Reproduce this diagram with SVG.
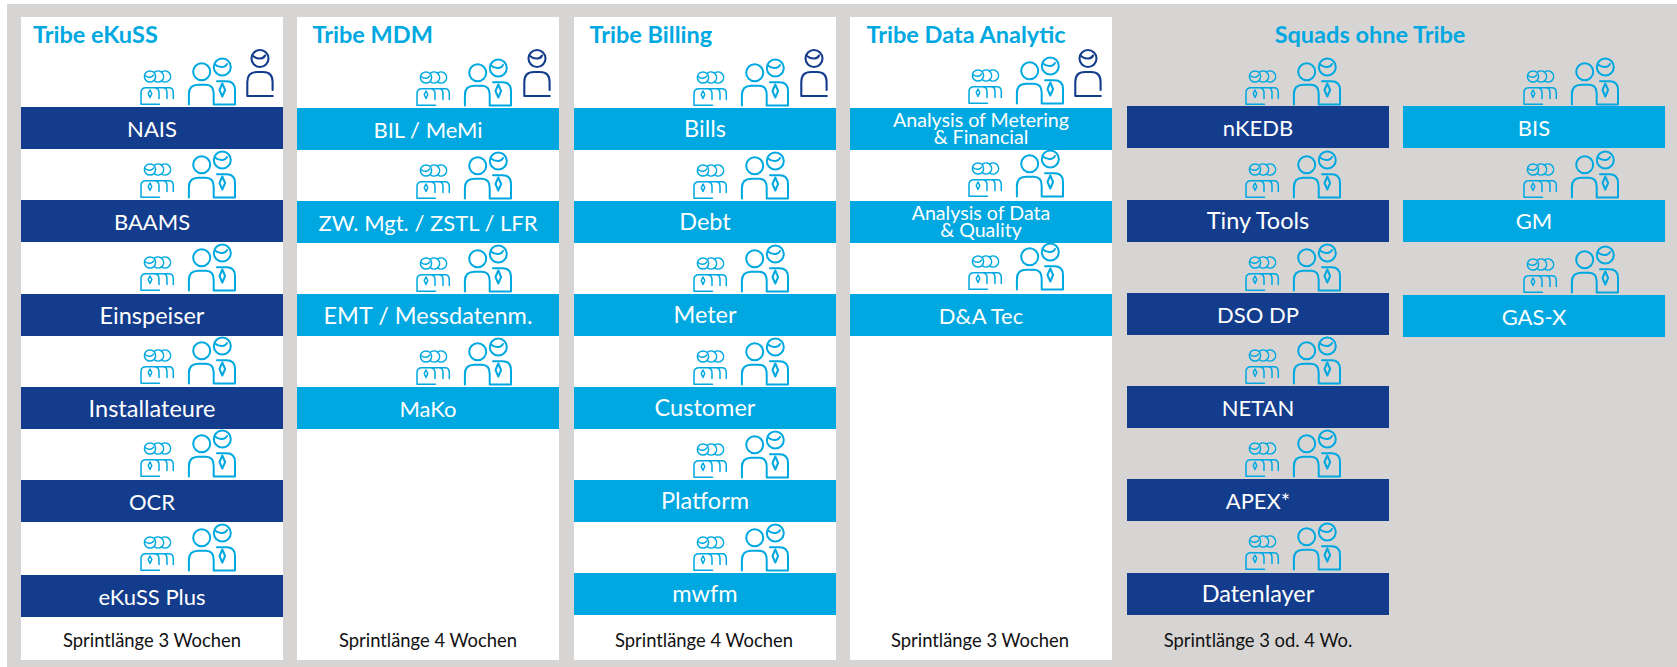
<svg xmlns="http://www.w3.org/2000/svg" width="1677" height="667" viewBox="0 0 1677 667">
<style>
text{font-family:"Lato","Carlito","Liberation Sans",sans-serif}
.panel{fill:#fff}
.dark{fill:#143c8c}
.cyan{fill:#00a8e1}
.lbl{fill:#fff;font-size:23.500px;text-anchor:middle}
.c{font-size:22px}
.lbl2{fill:#fff;font-size:19.600px;text-anchor:middle}
.ttl{fill:#00a8e1;font-size:23.500px;font-weight:700}
.ftr{fill:#111;font-size:18.400px;text-anchor:middle}
.ic{fill:none;stroke:#00a8e1;stroke-width:2;stroke-linecap:round;stroke-linejoin:round}
.ic2{fill:none;stroke:#143c8c;stroke-width:2.100;stroke-linecap:round;stroke-linejoin:round}
.thin{stroke-width:1.500}
</style>
<defs>
<g id="team" class="ic">
<g class="thin">
<circle cx="150" cy="76.500" r="5.600"/>
<path d="M145 75.500q3 2.500 6 1.500q2-.5 2.500-2"/>
<path d="M154.600 72.050A5.600 5.600 0 1 1 154.600 80.950M161.600 72.050A5.600 5.600 0 1 1 161.600 80.950"/>
<path d="M141 104.300V92.500q0-4.800 5-4.800h8q5 0 5 5V98.500M155 87.700h8q4 0 4 5V98.500M162 87.700h7q4.300 0 4.300 5V98.500M141 104.300H159.500"/>
<path d="M150 90l1.800 3.500-1.800 4-1.800-4z"/>
</g>
<circle cx="201.700" cy="71.700" r="8.500"/>
<circle cx="222.300" cy="67" r="8.500"/>
<path d="M215 64.500q3.500 3 7.500 2.500q3.500-.5 4.500-3"/>
<path d="M188.900 104.400V94q0-9.300 9.500-9.300h7.500q7.800 0 7.800 9V104.400H235V90q0-8.800-8.500-8.800H217"/>
<path d="M222.300 83.500l2.800 6.500-2.800 6.500-2.800-6.500z"/>
</g>
<g id="lead" class="ic2">
<circle cx="260" cy="58.500" r="8.500"/>
<path d="M253 56q3.500 3 7.500 2.500q3.500-.5 4.500-3"/>
<path d="M272.600 90V82q0-10-9.500-10H257q-9.700 0-9.700 10V96H272.800"/>
</g>
</defs>
<rect x="7" y="4" width="1670" height="663" fill="#d7d5d3"/>
<g id="connectors"/>
<g id="panels">
<rect class="panel" x="21" y="17" width="262" height="643"/>
<rect class="panel" x="297" y="17" width="262" height="643"/>
<rect class="panel" x="574" y="17" width="262" height="643"/>
<rect class="panel" x="850" y="17" width="262" height="643"/>
</g>
<g id="titles">
<text class="ttl" x="33" y="43">Tribe eKuSS</text>
<text class="ttl" x="312.500" y="43">Tribe MDM</text>
<text class="ttl" x="589.500" y="43">Tribe Billing</text>
<text class="ttl" x="866.500" y="43">Tribe Data Analytic</text>
<text class="ttl" x="1370" y="43" text-anchor="middle">Squads ohne Tribe</text>
</g>
<g id="lead-icons">
<use href="#lead"/>
<use href="#lead" x="277"/>
<use href="#lead" x="554"/>
<use href="#lead" x="828"/>
</g>
<g id="nais"><use href="#team"/><rect class="dark" x="21" y="107" width="262" height="42"/><text class="lbl c" x="152" y="137">NAIS</text></g>
<g id="baams"><use href="#team" y="93"/><rect class="dark" x="21" y="200" width="262" height="42"/><text class="lbl c" x="152" y="230">BAAMS</text></g>
<g id="einspeiser"><use href="#team" y="186"/><rect class="dark" x="21" y="294" width="262" height="42"/><text class="lbl" x="152" y="324">Einspeiser</text></g>
<g id="installateure"><use href="#team" y="279"/><rect class="dark" x="21" y="387" width="262" height="42"/><text class="lbl" x="152" y="417">Installateure</text></g>
<g id="ocr"><use href="#team" y="372"/><rect class="dark" x="21" y="480" width="262" height="42"/><text class="lbl c" x="152" y="510">OCR</text></g>
<g id="ekuss-plus"><use href="#team" y="466"/><rect class="dark" x="21" y="575" width="262" height="42"/><text class="lbl c" x="152" y="605">eKuSS Plus</text></g>
<g id="bil-memi"><use href="#team" x="276" y="1"/><rect class="cyan" x="297" y="108" width="262" height="42"/><text class="lbl c" x="428" y="137.500">BIL / MeMi</text></g>
<g id="zw-mgt"><use href="#team" x="276" y="94"/><rect class="cyan" x="297" y="201" width="262" height="42"/><text class="lbl c" x="428" y="230.500">ZW. Mgt. / ZSTL / LFR</text></g>
<g id="emt"><use href="#team" x="276" y="187"/><rect class="cyan" x="297" y="294" width="262" height="42"/><text class="lbl" x="428" y="323.500">EMT / Messdatenm.</text></g>
<g id="mako"><use href="#team" x="276" y="280"/><rect class="cyan" x="297" y="387" width="262" height="42"/><text class="lbl c" x="428" y="416.500">MaKo</text></g>
<g id="bills"><use href="#team" x="553" y="1"/><rect class="cyan" x="574" y="108" width="262" height="42"/><text class="lbl" x="705" y="137">Bills</text></g>
<g id="debt"><use href="#team" x="553" y="94"/><rect class="cyan" x="574" y="201" width="262" height="42"/><text class="lbl" x="705" y="230">Debt</text></g>
<g id="meter"><use href="#team" x="553" y="187"/><rect class="cyan" x="574" y="294" width="262" height="42"/><text class="lbl" x="705" y="323">Meter</text></g>
<g id="customer"><use href="#team" x="553" y="280"/><rect class="cyan" x="574" y="387" width="262" height="42"/><text class="lbl" x="705" y="416">Customer</text></g>
<g id="platform"><use href="#team" x="553" y="373"/><rect class="cyan" x="574" y="480" width="262" height="42"/><text class="lbl" x="705" y="509">Platform</text></g>
<g id="mwfm"><use href="#team" x="553" y="466"/><rect class="cyan" x="574" y="573" width="262" height="42"/><text class="lbl" x="705" y="602">mwfm</text></g>
<g id="analysis-metering"><use href="#team" x="828" y="-1"/><rect class="cyan" x="850" y="108" width="262" height="42"/><text class="lbl2" x="981" y="126.500">Analysis of Metering</text><text class="lbl2" x="981" y="144">&amp; Financial</text></g>
<g id="analysis-data"><use href="#team" x="828" y="92"/><rect class="cyan" x="850" y="201" width="262" height="42"/><text class="lbl2" x="981" y="219.500">Analysis of Data</text><text class="lbl2" x="981" y="236.500">&amp; Quality</text></g>
<g id="da-tec"><use href="#team" x="828" y="185"/><rect class="cyan" x="850" y="294" width="262" height="42"/><text class="lbl c" x="981" y="323.500">D&amp;A Tec</text></g>
<g id="nkedb"><use href="#team" x="1105" y="0"/><rect class="dark" x="1127" y="106" width="262" height="42"/><text class="lbl c" x="1258" y="135.500">nKEDB</text></g>
<g id="tiny-tools"><use href="#team" x="1105" y="93"/><rect class="dark" x="1127" y="200" width="262" height="42"/><text class="lbl" x="1258" y="229">Tiny Tools</text></g>
<g id="dso-dp"><use href="#team" x="1105" y="186"/><rect class="dark" x="1127" y="293" width="262" height="42"/><text class="lbl c" x="1258" y="323">DSO DP</text></g>
<g id="netan"><use href="#team" x="1105" y="279"/><rect class="dark" x="1127" y="386" width="262" height="42"/><text class="lbl c" x="1258" y="416">NETAN</text></g>
<g id="apex"><use href="#team" x="1105" y="372"/><rect class="dark" x="1127" y="479" width="262" height="42"/><text class="lbl c" x="1258" y="509">APEX*</text></g>
<g id="datenlayer"><use href="#team" x="1105" y="465"/><rect class="dark" x="1127" y="573" width="262" height="42"/><text class="lbl" x="1258" y="602">Datenlayer</text></g>
<g id="bis"><use href="#team" x="1383" y="0"/><rect class="cyan" x="1403" y="106" width="262" height="42"/><text class="lbl c" x="1534" y="135.500">BIS</text></g>
<g id="gm"><use href="#team" x="1383" y="93"/><rect class="cyan" x="1403" y="200" width="262" height="42"/><text class="lbl c" x="1534" y="229">GM</text></g>
<g id="gas-x"><use href="#team" x="1383" y="188"/><rect class="cyan" x="1403" y="295" width="262" height="42"/><text class="lbl c" x="1534" y="324.500">GAS-X</text></g>
<g id="footers">
<text class="ftr" x="152" y="647">Sprintlänge 3 Wochen</text>
<text class="ftr" x="428" y="647">Sprintlänge 4 Wochen</text>
<text class="ftr" x="704" y="647">Sprintlänge 4 Wochen</text>
<text class="ftr" x="980" y="647">Sprintlänge 3 Wochen</text>
<text class="ftr" x="1258" y="647">Sprintlänge 3 od. 4 Wo.</text>
</g>
</svg>
